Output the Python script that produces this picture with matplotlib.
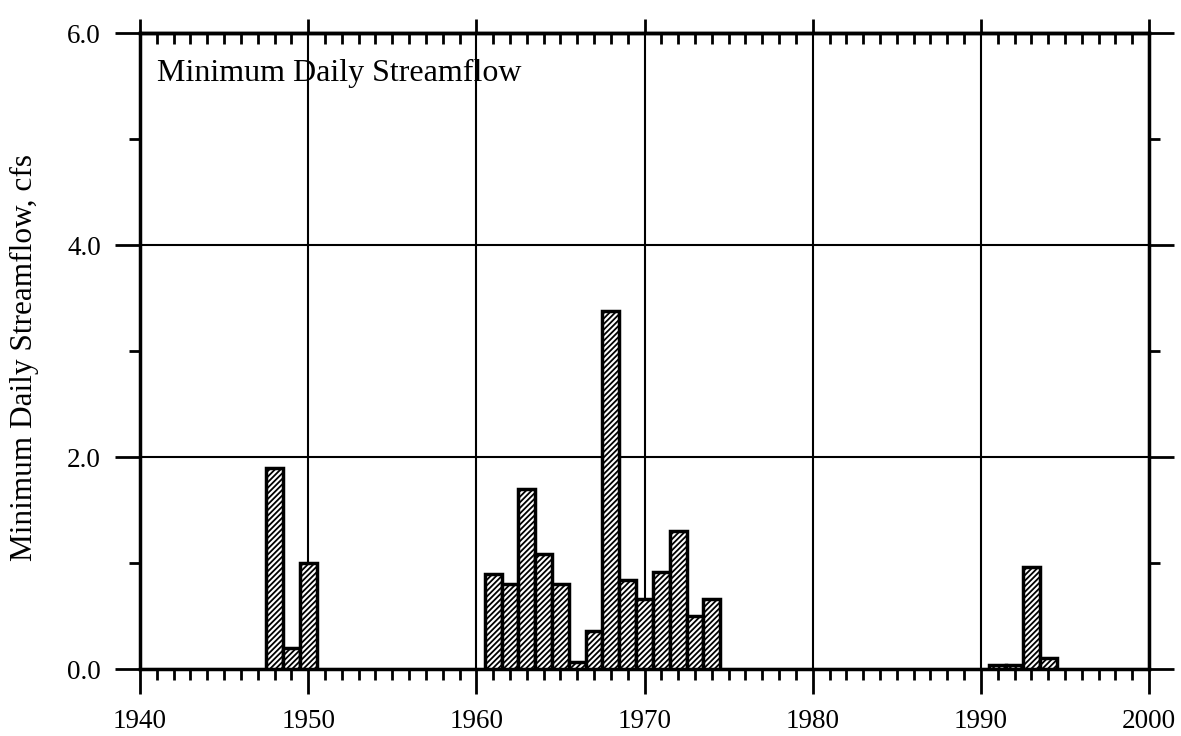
import matplotlib.pyplot as plt
from matplotlib.ticker import MultipleLocator, FormatStrFormatter

plt.rcParams['font.family'] = ['Liberation Serif', 'DejaVu Serif']
plt.rcParams['hatch.linewidth'] = 1.3

years = [1948, 1949, 1950,
         1961, 1962, 1963, 1964, 1965, 1966, 1967, 1968, 1969, 1970,
         1971, 1972, 1973, 1974,
         1991, 1992, 1993, 1994]
flow = [1.9, 0.2, 1.0,
        0.9, 0.8, 1.7, 1.09, 0.8, 0.07, 0.36, 3.38, 0.84, 0.66,
        0.92, 1.3, 0.5, 0.66,
        0.04, 0.04, 0.96, 0.1]

fig = plt.figure(figsize=(11.81, 7.36), dpi=100)
ax = fig.add_axes([0.1185, 0.091, 0.8545, 0.864])

ax.bar(years, flow, width=1.0, color='white', edgecolor='black',
       linewidth=2.5, hatch='//////', zorder=3)

ax.set_xlim(1940, 2000)
ax.set_ylim(0, 6)

ax.xaxis.set_major_locator(MultipleLocator(10))
ax.xaxis.set_minor_locator(MultipleLocator(1))
ax.yaxis.set_major_locator(MultipleLocator(2))
ax.yaxis.set_minor_locator(MultipleLocator(1))
ax.yaxis.set_major_formatter(FormatStrFormatter('%.1f'))

ax.grid(which='major', color='black', linewidth=1.5, zorder=1)

for s in ax.spines.values():
    s.set_linewidth(2.5)

ax.tick_params(which='major', direction='out', length=18, width=2,
               labelsize=19.5, pad=10, left=True, right=True, bottom=True, top=False)
ax.tick_params(which='minor', direction='out', length=8, width=2,
               left=True, right=True, bottom=True, top=False)
ax.tick_params(axis='x', which='major', pad=11)

top = ax.secondary_xaxis('top')
top.xaxis.set_major_locator(MultipleLocator(10))
top.xaxis.set_minor_locator(MultipleLocator(1))
top.tick_params(which='major', direction='out', length=10, width=2, labeltop=False)
top.tick_params(which='minor', direction='in', length=8, width=2)
top.spines['top'].set_linewidth(2.5)

ax.set_ylabel('Minimum Daily Streamflow, cfs', fontsize=22.5, labelpad=22)
ax.yaxis.set_label_coords(-0.1, 0.49)
ax.text(0.017, 0.96, 'Minimum Daily Streamflow', transform=ax.transAxes,
        fontsize=23, ha='left', va='top', zorder=5)

fig.savefig('out.png', dpi=100)
